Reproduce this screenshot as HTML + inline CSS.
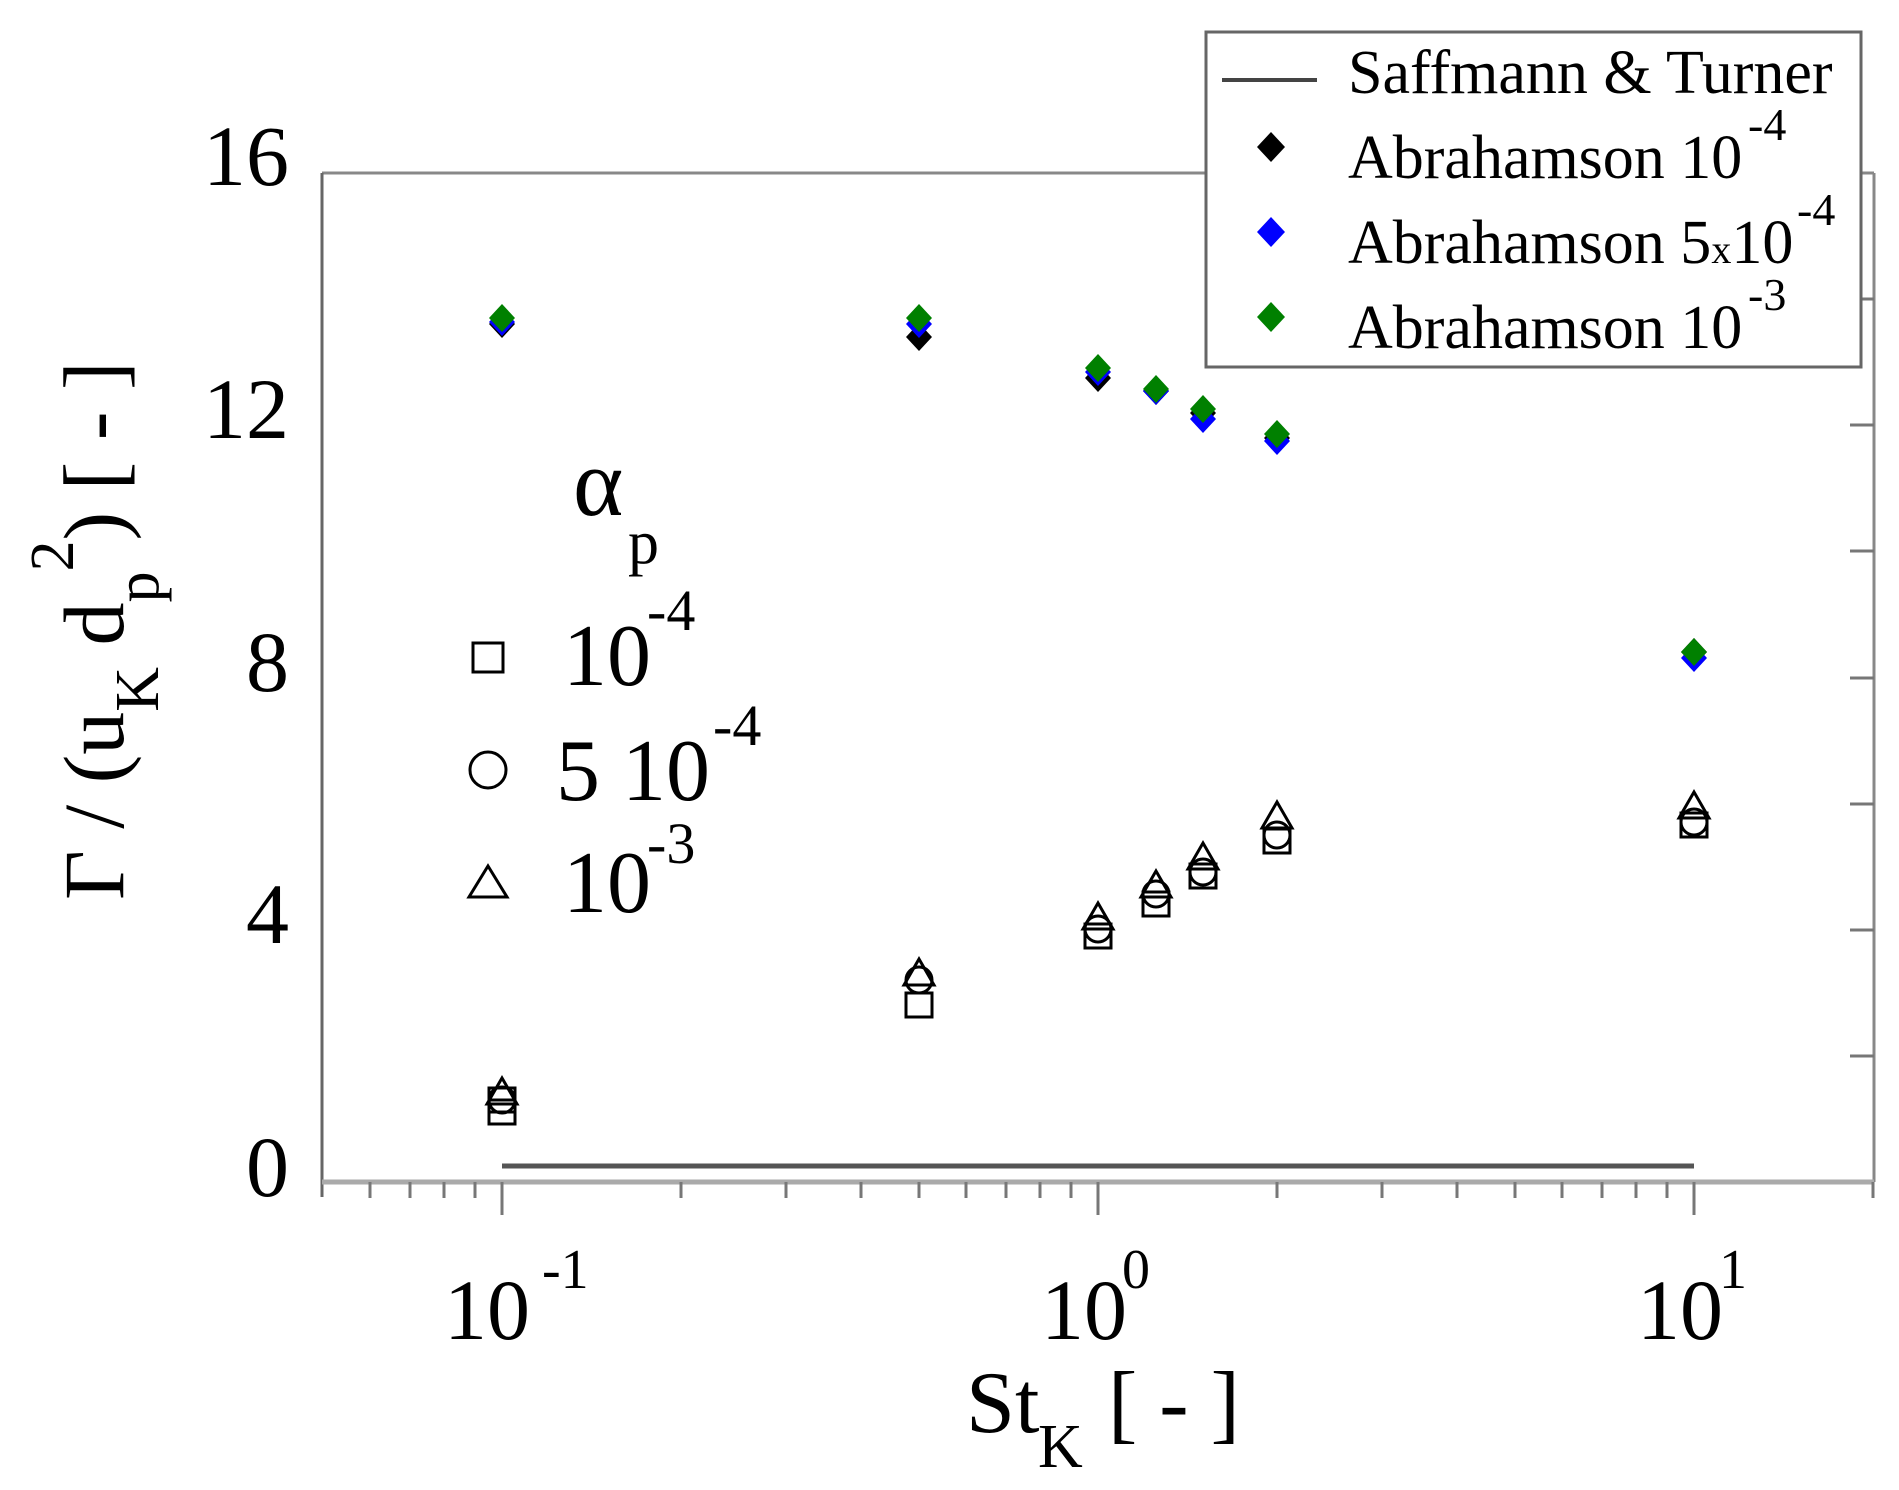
<!DOCTYPE html>
<html><head><meta charset="utf-8"><style>html,body{margin:0;padding:0;background:#fff}svg{display:block}text{font-family:"Liberation Serif",serif;fill:#000}</style></head>
<body>
<svg width="1899" height="1490" viewBox="0 0 1899 1490" xmlns="http://www.w3.org/2000/svg">
<defs>
<path id="dm" d="M0,-14 L13,0 L0,14 L-13,0 Z"/>
<path id="dl" d="M0,-15 L14,0 L0,15 L-14,0 Z"/>
<rect id="sq" x="-13" y="-12" width="26" height="24" fill="none" stroke="#000" stroke-width="3"/>
<circle id="ci" r="13" fill="none" stroke="#000" stroke-width="3"/>
<path id="tr" d="M0,-14 L15,12 L-15,12 Z" fill="none" stroke="#000" stroke-width="3"/>
</defs>
<line x1="322" y1="173" x2="1874" y2="173" stroke="#888" stroke-width="3"/>
<line x1="1874" y1="173" x2="1874" y2="1182" stroke="#888" stroke-width="3"/>
<line x1="322" y1="173" x2="322" y2="1197" stroke="#666" stroke-width="3"/>
<line x1="322" y1="1182" x2="1874" y2="1182" stroke="#aaa" stroke-width="5"/>
<g stroke="#777" stroke-width="3">
<line x1="1850" y1="299" x2="1874" y2="299"/><line x1="1850" y1="425" x2="1874" y2="425"/>
<line x1="1850" y1="551" x2="1874" y2="551"/><line x1="1850" y1="678" x2="1874" y2="678"/>
<line x1="1850" y1="804" x2="1874" y2="804"/><line x1="1850" y1="930" x2="1874" y2="930"/>
<line x1="1850" y1="1056" x2="1874" y2="1056"/>
</g>
<g stroke="#777" stroke-width="3">
<line x1="370" y1="1182" x2="370" y2="1198"/><line x1="410" y1="1182" x2="410" y2="1198"/><line x1="444" y1="1182" x2="444" y2="1198"/><line x1="475" y1="1182" x2="475" y2="1198"/>
<line x1="502" y1="1182" x2="502" y2="1215"/>
<line x1="681" y1="1182" x2="681" y2="1198"/><line x1="786" y1="1182" x2="786" y2="1198"/><line x1="861" y1="1182" x2="861" y2="1198"/><line x1="919" y1="1182" x2="919" y2="1198"/><line x1="966" y1="1182" x2="966" y2="1198"/><line x1="1006" y1="1182" x2="1006" y2="1198"/><line x1="1040" y1="1182" x2="1040" y2="1198"/><line x1="1071" y1="1182" x2="1071" y2="1198"/>
<line x1="1098" y1="1182" x2="1098" y2="1215"/>
<line x1="1277" y1="1182" x2="1277" y2="1198"/><line x1="1382" y1="1182" x2="1382" y2="1198"/><line x1="1457" y1="1182" x2="1457" y2="1198"/><line x1="1515" y1="1182" x2="1515" y2="1198"/><line x1="1562" y1="1182" x2="1562" y2="1198"/><line x1="1602" y1="1182" x2="1602" y2="1198"/><line x1="1636" y1="1182" x2="1636" y2="1198"/><line x1="1667" y1="1182" x2="1667" y2="1198"/>
<line x1="1694" y1="1182" x2="1694" y2="1215"/>
<line x1="1873" y1="1182" x2="1873" y2="1198"/>
</g>
<g font-size="86" text-anchor="end">
<text x="289" y="185">16</text><text x="289" y="438">12</text><text x="289" y="691">8</text><text x="289" y="943">4</text><text x="289" y="1196">0</text>
</g>
<g font-size="86"><text x="444" y="1339">10</text><text x="1041" y="1339">10</text><text x="1637" y="1339">10</text></g>
<g font-size="56"><text x="542" y="1288">-1</text><text x="1122" y="1288">0</text><text x="1719" y="1288">1</text></g>
<text x="966" y="1432" font-size="88">St</text><text x="1038" y="1467" font-size="62">K</text><text x="1108" y="1432" font-size="88">[ - ]</text>
<g transform="translate(123,900) rotate(-90)">
<text x="0" y="0" font-size="86">Γ / (u<tspan font-size="62" dy="35">K</tspan><tspan font-size="86" dy="-35"> d</tspan><tspan font-size="62" dy="35">p</tspan><tspan font-size="62" dy="-85">2</tspan><tspan font-size="86" dy="50">)  [ - ]</tspan></text>
</g>
<line x1="502" y1="1166" x2="1694" y2="1166" stroke="#555" stroke-width="5"/>
<g fill="#000">
<use href="#dm" x="502" y="324"/><use href="#dm" x="919" y="337"/><use href="#dm" x="1098" y="378"/><use href="#dm" x="1156" y="391"/><use href="#dm" x="1203" y="413"/><use href="#dm" x="1277" y="438"/><use href="#dm" x="1694" y="652"/>
</g>
<g fill="#0000ff">
<use href="#dm" x="502" y="322"/><use href="#dm" x="919" y="324"/><use href="#dm" x="1098" y="372"/><use href="#dm" x="1156" y="391"/><use href="#dm" x="1203" y="419"/><use href="#dm" x="1277" y="441"/><use href="#dm" x="1694" y="658"/>
</g>
<g fill="#008000">
<use href="#dm" x="502" y="318"/><use href="#dm" x="919" y="318"/><use href="#dm" x="1098" y="368"/><use href="#dm" x="1156" y="389"/><use href="#dm" x="1203" y="409"/><use href="#dm" x="1277" y="434"/><use href="#dm" x="1694" y="652"/>
</g>
<use href="#sq" x="502" y="1112"/><use href="#sq" x="502" y="1100"/><use href="#sq" x="919" y="1005"/><use href="#sq" x="1098" y="936"/><use href="#sq" x="1156" y="904"/><use href="#sq" x="1203" y="876"/><use href="#sq" x="1277" y="841"/><use href="#sq" x="1694" y="825"/>
<use href="#ci" x="502" y="1100"/><use href="#ci" x="919" y="980"/><use href="#ci" x="1098" y="929"/><use href="#ci" x="1156" y="894"/><use href="#ci" x="1203" y="872"/><use href="#ci" x="1277" y="835"/><use href="#ci" x="1694" y="822"/>
<use href="#tr" x="502" y="1092"/><use href="#tr" x="919" y="973"/><use href="#tr" x="1098" y="917"/><use href="#tr" x="1156" y="885"/><use href="#tr" x="1203" y="857"/><use href="#tr" x="1277" y="816"/><use href="#tr" x="1694" y="806"/>
<text x="573" y="515" font-size="96">α</text><text x="628" y="563" font-size="62">p</text>
<rect x="473" y="643" width="30" height="29" fill="none" stroke="#000" stroke-width="3"/>
<circle cx="488" cy="770" r="18" fill="none" stroke="#000" stroke-width="3"/>
<path d="M488,866 L507,897 L469,897 Z" fill="none" stroke="#000" stroke-width="3"/>
<g font-size="88"><text x="563" y="685">10</text><text x="556" y="800">5 10</text><text x="563" y="912">10</text></g>
<g font-size="58"><text x="647" y="630">-4</text><text x="713" y="745">-4</text><text x="647" y="863">-3</text></g>
<rect x="1206" y="32" width="655" height="335" fill="#fff" stroke="#666" stroke-width="3"/>
<line x1="1222" y1="80" x2="1317" y2="80" stroke="#444" stroke-width="4"/>
<use href="#dl" x="1271" y="147" fill="#000"/>
<use href="#dl" x="1271" y="232" fill="#0000ff"/>
<use href="#dl" x="1271" y="317" fill="#008000"/>
<g font-size="62">
<text x="1348" y="93">Saffmann &amp; Turner</text>
<text x="1348" y="178">Abrahamson 10</text>
<text x="1348" y="263">Abrahamson 5<tspan font-size="40">x</tspan>10</text>
<text x="1348" y="348">Abrahamson 10</text>
</g>
<g font-size="46"><text x="1748" y="140">-4</text><text x="1797" y="225">-4</text><text x="1748" y="310">-3</text></g>
</svg>
</body></html>
